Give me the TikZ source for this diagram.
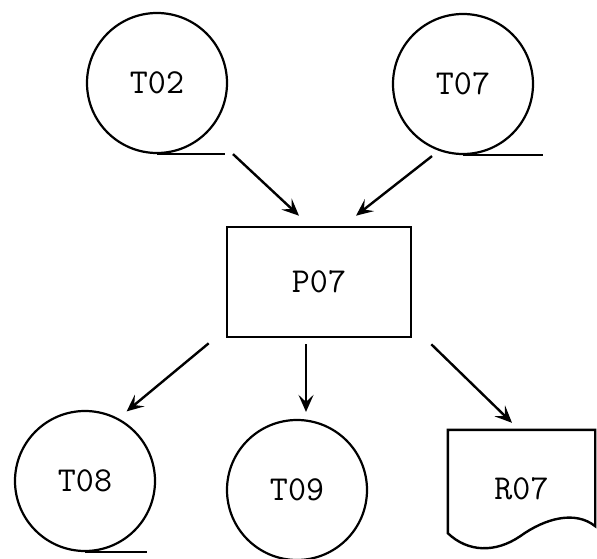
\documentclass[tikz,border=0pt]{standalone}
\usepackage{fontspec}
\usetikzlibrary{arrows.meta, positioning}

\begin{document}
\begin{tikzpicture}[
    x=1pt, y=-1pt,
    >={Stealth[length=17pt, width=15pt, inset=7pt]},
    tape/.style={
        draw,
        circle,
        line width=2.2pt,
        inner sep=0pt,
        minimum size=140pt,
        font=\fontsize{35}{40}\selectfont\ttfamily
    },
    proc/.style={
        draw,
        rectangle,
        line width=2.6pt,
        minimum width=184pt,
        minimum height=110pt,
        font=\fontsize{35}{40}\selectfont\ttfamily
    },
    report/.style={
        rectangle,
        inner sep=0pt,
        minimum width=147pt,
        minimum height=118pt,
        font=\fontsize{35}{40}\selectfont\ttfamily
    },
    tail/.style={line width=2.2pt},
    flow/.style={->, line width=2.4pt}
]
\useasboundingbox (0,0) rectangle (597,559);

\node[tape] (t02) at (157,83) {T02};
\node[tape] (t07) at (463,84) {T07};
\node[proc] (p07) at (319,282) {P07};
\node[tape] (t08) at (85,481) {T08};
\node[tape] (t09) at (297,490) {T09};
\node[report] (r07) at (521.5,489) {R07};

% tape tails
\draw[tail] (t02.south) -- ++(68,0);
\draw[tail] (t07.south) -- ++(80,0);
\draw[tail] (t08.south) -- ++(62,0);
\draw[tail] (t09.south) -- ++(62,0);

% report sheet with wavy bottom
\draw[line width=2.4pt] (r07.north west) -- (r07.north east)
    -- ([yshift=22pt]r07.south east)
    .. controls ([shift={(-20pt,38pt)}]r07.south east) and ([shift={(-50pt,30pt)}]r07.south east)
    .. ([shift={(-75pt,12pt)}]r07.south east)
    .. controls ([shift={(-100pt,-5pt)}]r07.south east) and ([shift={(20pt,-4pt)}]r07.south west)
    .. ([yshift=15pt]r07.south west) -- cycle;

\draw[flow] ([xshift=76pt]t02.south) -- ([xshift=-20pt,yshift=10pt]p07.north);
\draw[flow] ([xshift=-31pt,yshift=-1pt]t07.south) -- ([xshift=37pt,yshift=10pt]p07.north);
\draw[flow] ([xshift=-17pt,yshift=-5pt]p07.south west) -- ([xshift=6pt,yshift=8pt]t08.60);
\draw[flow] ([xshift=-13pt,yshift=-6pt]p07.south) -- ([xshift=9pt,yshift=7pt]t09.north);
\draw[flow] ([xshift=19pt,yshift=-6pt]p07.south east) -- ([xshift=-9.5pt,yshift=7pt]r07.north);

\end{tikzpicture}
\end{document}
